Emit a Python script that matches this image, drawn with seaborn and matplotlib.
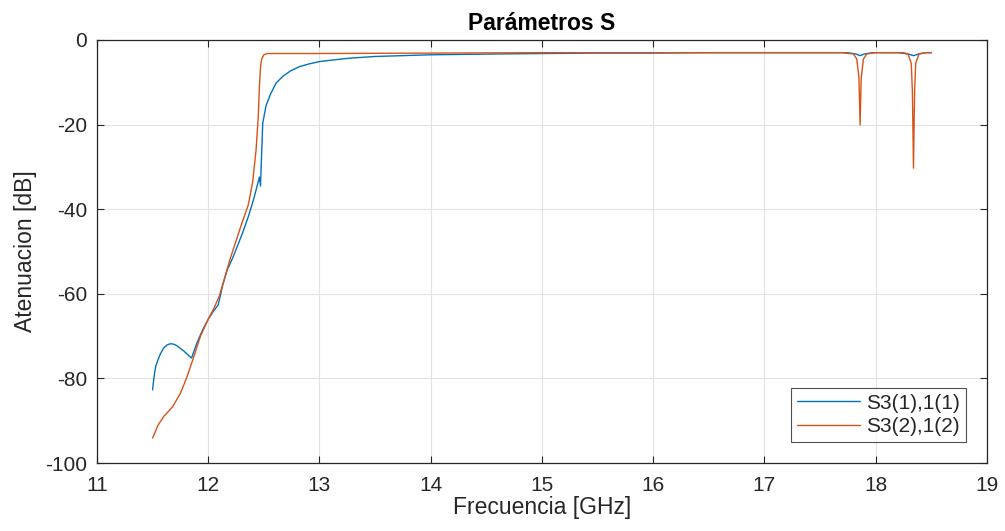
"""S-parameter attenuation plot, MATLAB-like look."""

import numpy as np
import pandas as pd
import matplotlib
matplotlib.use("Agg")
import matplotlib.pyplot as plt
import seaborn as sns

# S3(1),1(1)
freq_s31 = [11.50, 11.51, 11.52, 11.53, 11.55, 11.57, 11.60, 11.63, 11.66,
            11.69, 11.72, 11.75, 11.78, 11.82, 11.85, 11.90,
            11.95, 12.00, 12.05, 12.09, 12.13, 12.17, 12.22, 12.26, 12.31,
            12.36, 12.41, 12.46, 12.47, 12.48, 12.49, 12.52, 12.56, 12.61,
            12.67, 12.74, 12.82, 12.90, 13.00, 13.13, 13.27, 13.50, 13.75,
            14.00, 14.30, 14.62, 15.00, 15.50, 16.00, 16.50, 17.00, 17.50,
            17.75, 17.82, 17.86, 17.90, 17.97, 18.20, 18.29, 18.34, 18.39,
            18.45, 18.50]
att_s31 = [-82.7, -80.3, -78.3, -77.0, -75.5, -74.2, -72.8, -72.1, -71.8,
           -71.9, -72.3, -72.9, -73.5, -74.5, -75.2, -71.5,
           -68.5, -66.0, -64.0, -62.6, -58.0, -54.4, -51.5, -48.9, -45.5,
           -41.8, -37.5, -32.4, -34.5, -27.0, -19.7, -15.5, -12.8, -10.2,
           -8.6, -7.3, -6.3, -5.7, -5.1, -4.7, -4.3, -3.9, -3.7,
           -3.5, -3.4, -3.3, -3.2, -3.1, -3.1, -3.0, -3.0, -3.0,
           -3.0, -3.3, -3.7, -3.3, -3.0, -3.0, -3.3, -3.7, -3.3,
           -3.0, -3.0]

# S3(2),1(2)
freq_s32 = [11.50, 11.55, 11.60, 11.68, 11.75, 11.81, 11.87, 11.93, 12.00,
            12.05, 12.10, 12.15, 12.20, 12.25, 12.30, 12.36, 12.40, 12.43,
            12.45, 12.46, 12.47, 12.48, 12.50, 12.53, 12.60, 13.00, 14.00,
            15.00, 16.00, 17.00, 17.70, 17.80, 17.83, 17.85, 17.86, 17.87,
            17.89, 17.92, 18.00, 18.25, 18.29, 18.32, 18.33, 18.34, 18.35,
            18.36, 18.39, 18.45, 18.50]
att_s32 = [-94.1, -91.0, -89.0, -86.7, -83.5, -79.6, -74.9, -70.0, -66.0,
           -63.5, -60.5, -56.0, -51.5, -47.5, -43.5, -39.0, -33.5, -26.0,
           -18.0, -11.0, -6.5, -4.5, -3.5, -3.2, -3.2, -3.2, -3.1,
           -3.0, -3.0, -3.0, -3.0, -3.3, -4.5, -9.0, -20.1, -9.0,
           -4.5, -3.3, -3.0, -3.0, -3.3, -5.5, -12.0, -30.3, -12.0,
           -5.5, -3.3, -3.0, -3.0]

labels = ["S3(1),1(1)", "S3(2),1(2)"]
colors = ["#0072BD", "#D95319"]

df = pd.concat([
    pd.DataFrame({"freq": freq_s31, "att": att_s31, "serie": labels[0]}),
    pd.DataFrame({"freq": freq_s32, "att": att_s32, "serie": labels[1]}),
])

sns.set_theme(style="white")
plt.rcParams["font.family"] = ["Liberation Sans", "DejaVu Sans"]
plt.rcParams["axes.unicode_minus"] = False

fig = plt.figure(figsize=(10.05, 5.31), dpi=100)
ax = fig.add_axes([0.0965, 0.128, 0.8855, 0.7967])

sns.lineplot(data=df, x="freq", y="att", hue="serie", palette=colors,
             estimator=None, sort=False, linewidth=1.0, ax=ax)

ax.set_xlim(11, 19)
ax.set_ylim(-100, 0)
ax.set_xticks(np.arange(11, 20, 1))
ax.set_yticks(np.arange(-100, 1, 20))
ax.grid(True, color="#e2e2e2", linewidth=0.8)
for s in ax.spines.values():
    s.set_visible(True)
    s.set_color("#262626")
    s.set_linewidth(0.9)
ax.tick_params(direction="in", length=5, width=0.8, color="#262626",
               labelsize=15, labelcolor="#262626", top=True, right=True,
               bottom=True, left=True)
ax.tick_params(axis="x", pad=9)
ax.tick_params(axis="y", pad=7)

ax.set_xlabel("Frecuencia [GHz]", fontsize=16.5, color="#262626", labelpad=1)
ax.set_ylabel("Atenuacion [dB]", fontsize=16.5, color="#262626", labelpad=6)
ax.set_title("Parámetros S", fontsize=16.5, fontweight="bold", color="black", pad=7)

leg = ax.legend(loc="lower right", fontsize=15, frameon=True, fancybox=False,
                edgecolor="#262626", handlelength=3.0, handletextpad=0.3,
                borderaxespad=1.0, borderpad=0.3, labelspacing=0.2)
leg.get_frame().set_linewidth(0.8)

fig.savefig("out.png", dpi=100)
